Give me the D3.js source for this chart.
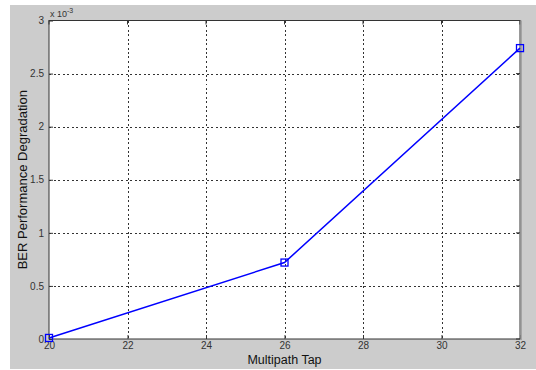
<!DOCTYPE html>
<html><head><meta charset="utf-8">
<script src="https://cdn.jsdelivr.net/npm/d3@7/dist/d3.min.js"></script>
<style>body{margin:0;background:#fff}svg{display:block}</style>
</head><body>
<script>
const taps = [20, 26, 32];
const berDegradation = [0.00001, 0.00072, 0.00274];
const xTicks = [20, 22, 24, 26, 28, 30, 32];
const yTicks = [0, 0.0005, 0.001, 0.0015, 0.002, 0.0025, 0.003];
const yTickLabels = ["0", "0.5", "1", "1.5", "2", "2.5", "3"];

const W = 536, H = 370;
const m = {l: 49, t: 20.5, r: 520, b: 339};
const svg = d3.select("body").append("svg").attr("width", W).attr("height", H);
svg.append("rect").attr("x", 10).attr("y", 5).attr("width", W - 10).attr("height", 364).attr("fill", "#cccccc");
svg.append("rect").attr("x", m.l).attr("y", m.t).attr("width", m.r - m.l).attr("height", m.b - m.t).attr("fill", "#fff");

const x = d3.scaleLinear().domain([20, 32]).range([m.l, m.r]);
const y = d3.scaleLinear().domain([0, 0.003]).range([m.b, m.t]);

// grid
const g = svg.append("g").attr("stroke", "#333").attr("stroke-width", 1).attr("stroke-dasharray", "2,2.5").attr("shape-rendering", "crispEdges");
xTicks.slice(1, -1).forEach(t => g.append("line").attr("x1", Math.round(x(t)) + 0.5).attr("x2", Math.round(x(t)) + 0.5).attr("y1", m.t).attr("y2", m.b));
yTicks.slice(1, -1).forEach(t => g.append("line").attr("y1", Math.round(y(t)) + 0.5).attr("y2", Math.round(y(t)) + 0.5).attr("x1", m.l).attr("x2", m.r));

// axes
const xAxis = d3.axisBottom(x).tickValues(xTicks).tickSizeInner(-4).tickSizeOuter(0).tickPadding(3);
const yAxis = d3.axisLeft(y).tickValues(yTicks).tickFormat((d, i) => yTickLabels[i]).tickSizeInner(-4).tickSizeOuter(0).tickPadding(5);
const xa = svg.append("g").attr("transform", `translate(0,${m.b})`).call(xAxis);
const ya = svg.append("g").attr("transform", `translate(${m.l},0)`).call(yAxis);
[xa, ya].forEach(a => {
  a.select(".domain").remove();
  a.selectAll("line").attr("stroke", "#333");
  a.selectAll("text").attr("font-family", "Liberation Sans, Arial, sans-serif").attr("font-size", 10).attr("fill", "#333");
});
// top/right ticks
xTicks.forEach(t => svg.append("line").attr("x1", x(t)).attr("x2", x(t)).attr("y1", m.t).attr("y2", m.t + 4).attr("stroke", "#333"));
yTicks.forEach(t => svg.append("line").attr("y1", y(t)).attr("y2", y(t)).attr("x1", m.r).attr("x2", m.r - 4).attr("stroke", "#333"));

// box
svg.append("rect").attr("x", m.l).attr("y", m.t).attr("width", m.r - m.l).attr("height", m.b - m.t)
  .attr("fill", "none").attr("stroke", "#333").attr("stroke-width", 1);
svg.append("line").attr("x1", m.r + 1).attr("x2", m.r + 1).attr("y1", m.t).attr("y2", m.b + 1).attr("stroke", "#999").attr("stroke-width", 1.5);

// exponent
const ex = svg.append("text").attr("x", 50).attr("y", 17).attr("font-family", "Liberation Sans, Arial, sans-serif").attr("font-size", 9).attr("fill", "#333");
ex.append("tspan").text("x 10");
ex.append("tspan").attr("dy", -4).attr("font-size", 7).text("-3");

// line
const data = taps.map((t, i) => [t, berDegradation[i]]);
svg.append("path").datum(data).attr("fill", "none").attr("stroke", "#0000ff").attr("stroke-width", 1.5)
  .attr("d", d3.line().x(d => x(d[0])).y(d => y(d[1])));
svg.selectAll(".mk").data(data).enter().append("rect")
  .attr("x", d => x(d[0]) - 3.5).attr("y", d => y(d[1]) - 3.5).attr("width", 7).attr("height", 7)
  .attr("fill", "none").attr("stroke", "#0000ff").attr("stroke-width", 1.3);

// labels
svg.append("text").attr("x", (m.l + m.r) / 2).attr("y", 364).attr("text-anchor", "middle")
  .attr("font-family", "Liberation Sans, Arial, sans-serif").attr("font-size", 12.5).attr("fill", "#111").text("Multipath Tap");
svg.append("text").attr("transform", `translate(27,${(m.t + m.b) / 2}) rotate(-90)`).attr("text-anchor", "middle")
  .attr("font-family", "Liberation Sans, Arial, sans-serif").attr("font-size", 13).attr("fill", "#111").text("BER Performance Degradation");
</script>
</body></html>
